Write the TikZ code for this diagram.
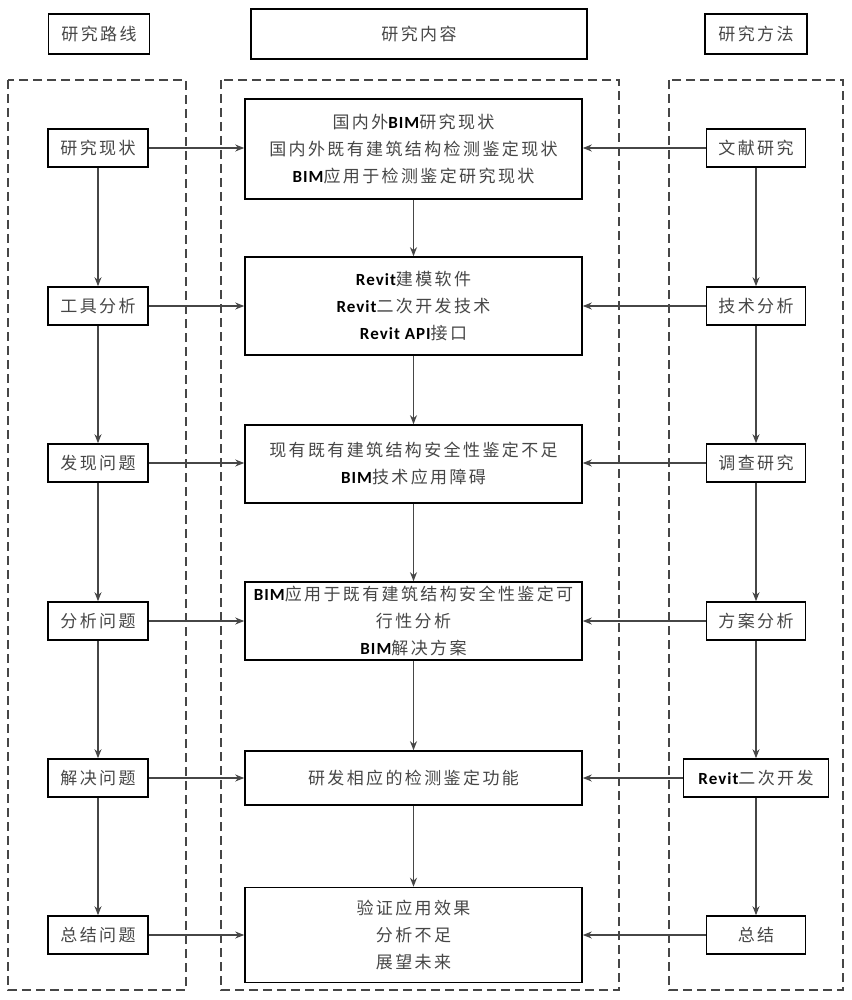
\documentclass[tikz,border=0pt]{standalone}
\usepackage{fontspec}
\setmainfont[LetterSpace=14]{Noto Sans CJK SC}
\newfontfamily\latinfont[LetterSpace=6]{Carlito}
\usetikzlibrary{arrows.meta}
\definecolor{linegray}{RGB}{70,70,70}
\definecolor{textgray}{RGB}{70,70,70}
\newcommand{\lt}[1]{{\latinfont\bfseries\color{black}#1}}
\tikzset{>=Stealth}
\tikzset{%
    headbox/.style={draw=black,line width=1.6pt,minimum height=40pt,inner sep=0pt,text=textgray},
    sidebox/.style={headbox,minimum width=100pt,minimum height=38pt},
    contentbox/.style={headbox,minimum width=337pt,align=center},
    dashframe/.style={draw=linegray,line width=1.3pt,dash pattern=on 9pt off 5pt},
    flow/.style={->,draw=linegray,line width=1.2pt,>={Stealth[length=9pt,width=7pt]}}
}

\begin{document}
\begin{tikzpicture}[x=1pt,y=-1pt]
\useasboundingbox (0,0) rectangle (851,1000);
\fontsize{17}{27}\selectfont
% column headings
\node[headbox,minimum width=101pt] (hroute) at (99,34) {研究路线};
\node[headbox,minimum width=336pt,minimum height=50pt] (hcontent) at (419,34) {研究内容};
\node[headbox,minimum width=102pt] (hmethod) at (756,34) {研究方法};
% dashed columns
\draw[dashframe] (8,80) rectangle (186,990);
\draw[dashframe] (221,80) rectangle (619,990);
\draw[dashframe] (669,80) rectangle (843,990);
% research route
\foreach \y/\name/\txt in {148/r1/研究现状,306/r2/工具分析,463/r3/发现问题,621/r4/分析问题,778/r5/解决问题,935/r6/总结问题}
    \node[sidebox] (\name) at (98,\y) {\txt};
% research methods
\foreach \y/\name/\txt in {148/m1/文献研究,306/m2/技术分析,463/m3/调查研究,621/m4/方案分析,935/m6/总结}
    \node[sidebox,minimum width=99pt] (\name) at (756,\y) {\txt};
\node[sidebox,minimum width=145pt] (m5) at (756,778) {\lt{Revit}二次开发};
% research content
\node[contentbox,minimum height=100pt] (c1) at (413.5,149)
    {国内外\lt{BIM}研究现状\\国内外既有建筑结构检测鉴定现状\\\lt{BIM}应用于检测鉴定研究现状};
\node[contentbox,minimum height=98pt] (c2) at (413.5,306)
    {\lt{Revit}建模软件\\\lt{Revit}二次开发技术\\\lt{Revit API}接口};
\node[contentbox,minimum height=78pt] (c3) at (413.5,464)
    {现有既有建筑结构安全性鉴定不足\\\lt{BIM}技术应用障碍};
\node[contentbox,minimum height=78pt] (c4) at (413.5,621)
    {\lt{BIM}应用于既有建筑结构安全性鉴定可\\行性分析\\\lt{BIM}解决方案};
\node[contentbox,minimum height=54pt] (c5) at (413.5,778) {研发相应的检测鉴定功能};
\node[contentbox,minimum height=95pt] (c6) at (413.5,935)
    {验证应用效果\\分析不足\\展望未来};
% connectors
\foreach \a/\b in {1/2,2/3,3/4,4/5,5/6} {
    \draw[flow] (r\a) -- (r\b);
    \draw[flow] (c\a) -- (c\b);
    \draw[flow] (m\a) -- (m\b);
}
\foreach \i in {1,...,6} {
    \draw[flow] (r\i.east) -- (r\i.east -| c\i.west);
    \draw[flow] (m\i.west) -- (m\i.west -| c\i.east);
}
\end{tikzpicture}
\end{document}
